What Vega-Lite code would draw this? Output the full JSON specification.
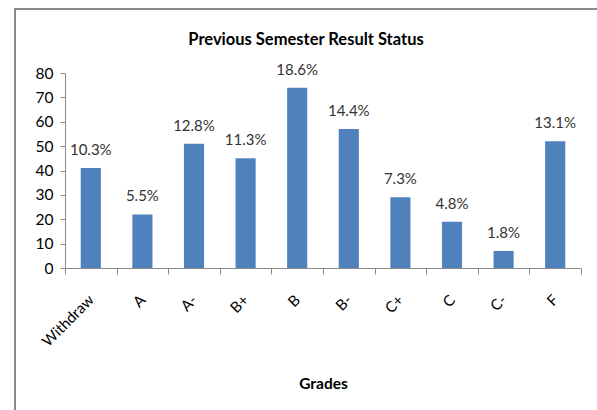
{
  "$schema": "https://vega.github.io/schema/vega-lite/v6.json",
  "autosize": "none",
  "padding": {"left": 15, "top": 9, "right": 0, "bottom": 0},
  "width": 600,
  "height": 420,
  "background": "white",
  "config": {
    "font": "Lato",
    "view": {"stroke": "#8a8a8a", "strokeWidth": 2}
  },
  "title": {
    "text": "Previous Semester Result Status",
    "fontSize": 16.5,
    "fontWeight": "bold",
    "color": "black",
    "font": "Lato",
    "anchor": "middle",
    "baseline": "alphabetic",
    "offset": -52,
    "dx": -9
  },
  "data": {
    "values": [
      {"grade": "Withdraw", "count": 41, "pct": "10.3%"},
      {"grade": "A", "count": 22, "pct": "5.5%"},
      {"grade": "A-", "count": 51, "pct": "12.8%"},
      {"grade": "B+", "count": 45, "pct": "11.3%"},
      {"grade": "B", "count": 74, "pct": "18.6%"},
      {"grade": "B-", "count": 57, "pct": "14.4%"},
      {"grade": "C+", "count": 29, "pct": "7.3%"},
      {"grade": "C", "count": 19, "pct": "4.8%"},
      {"grade": "C-", "count": 7, "pct": "1.8%"},
      {"grade": "F", "count": 52, "pct": "13.1%"}
    ]
  },
  "encoding": {
    "x": {
      "field": "grade",
      "type": "nominal",
      "sort": null,
      "scale": {"type": "band", "range": [50, 566], "paddingInner": 0, "paddingOuter": 0},
      "axis": {
        "orient": "bottom",
        "offset": -161,
        "labelAngle": -45,
        "labelAlign": "right",
        "labelBaseline": "middle",
        "labelPadding": 23,
        "labelFontSize": 15,
        "labelColor": "black",
        "tickBand": "extent",
        "tickSize": 6,
        "tickColor": "#8a8a8a",
        "domainColor": "#8a8a8a",
        "title": "Grades",
        "titleFontSize": 15.5,
        "titleFontWeight": "bold",
        "titleColor": "black",
        "titlePadding": 27,
        "grid": false
      }
    },
    "y": {
      "field": "count",
      "type": "quantitative",
      "scale": {"domain": [0, 80], "range": [259, 64], "nice": false, "zero": true},
      "axis": {
        "orient": "left",
        "offset": -50,
        "values": [0, 10, 20, 30, 40, 50, 60, 70, 80],
        "tickSize": 5,
        "tickColor": "#8a8a8a",
        "domainColor": "#8a8a8a",
        "labelFontSize": 15.5,
        "labelColor": "black",
        "labelPadding": 7,
        "grid": false,
        "title": null
      }
    }
  },
  "layer": [
    {"mark": {"type": "bar", "color": "#4F81BD", "width": {"band": 0.39}}},
    {
      "mark": {"type": "text", "baseline": "alphabetic", "dy": -13, "fontSize": 15, "color": "#333333"},
      "encoding": {"text": {"field": "pct"}}
    }
  ]
}
